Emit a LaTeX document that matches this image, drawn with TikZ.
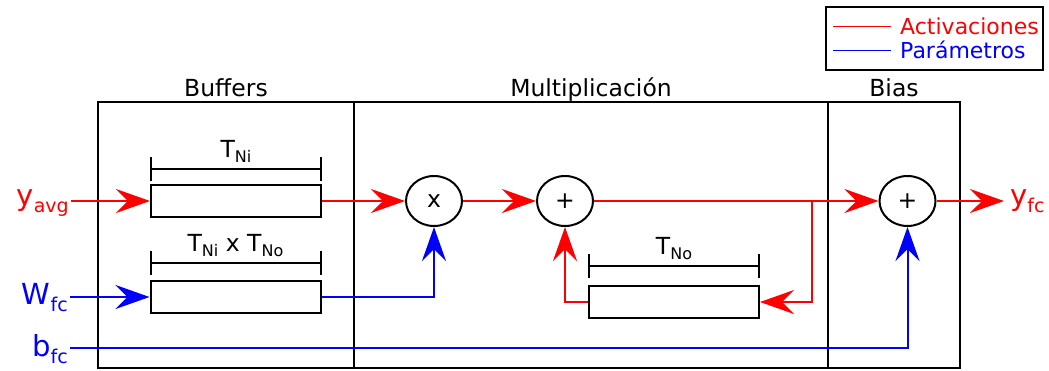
\documentclass[tikz,border=0pt]{standalone}
\usepackage{fontspec}
\setmainfont{DejaVu Sans}
\usepackage{xcolor}
\usepackage{tikz}
\usetikzlibrary{arrows.meta,shapes.geometric}
\definecolor{actred}{HTML}{FF0000}
\definecolor{parblue}{HTML}{0000FF}

\newcommand\hdfont{\fontsize{23.5}{27}\selectfont}
\newcommand\legfont{\fontsize{22}{26}\selectfont}
\newcommand\iofont{\fontsize{29}{32}\selectfont}
\newcommand\iolbl[2]{{\iofont #1}\raisebox{-7pt}{\fontsize{19}{21}\selectfont #2}}
\newcommand\tsz[1]{T\raisebox{-5pt}{\fontsize{16}{17}\selectfont #1}}

\tikzset{
  stagebox/.style={draw,line width=2pt,minimum height=266pt,inner sep=0pt},
  heading/.style={anchor=base,yshift=5pt,font=\hdfont},
  bufbox/.style={draw,line width=2pt,minimum width=170pt,minimum height=32pt,inner sep=0pt},
  opnode/.style={draw,ellipse,line width=2pt,minimum width=56pt,minimum height=50pt,inner sep=0pt,font=\hdfont},
  dimline/.style={line width=2pt,{Bar[width=24pt]}-{Bar[width=24pt]}},
  dimlbl/.style={midway,anchor=base,yshift=12pt,font=\hdfont},
  actline/.style={actred,line width=2pt},
  paramline/.style={parblue,line width=2pt},
}

\begin{document}
\begin{tikzpicture}[x=1pt,y=-1pt,>={Stealth[length=34pt,width=24pt,inset=12pt]}]
  \useasboundingbox (0,0) rectangle (1049,370);

  \node[draw,line width=2pt,minimum width=217pt,minimum height=63pt] (legend) at (934.5,38.5) {};
  \draw[actred,line width=1pt] (833,26) -- (891,26);
  \draw[parblue,line width=1pt] (833,50) -- (891,50);
  \node[anchor=base west,text=actred,font=\legfont,inner sep=0pt] (legact) at (900,34) {Activaciones};
  \node[anchor=base west,text=parblue,font=\legfont,inner sep=0pt] (legpar) at (900,58) {Parámetros};

  \node[stagebox,minimum width=256pt] (buffers) at (226,235) {};
  \node[stagebox,minimum width=474pt] (mult) at (591,235) {};
  \node[stagebox,minimum width=132pt] (bias) at (894,235) {};
  \node[heading] at (buffers.north) {Buffers};
  \node[heading] at (mult.north) {Multiplicación};
  \node[heading] at (bias.north) {Bias};

  \node[bufbox] (buf1) at (236,201) {};
  \node[bufbox] (buf2) at (235.5,297) {};
  \node[bufbox] (fbbuf) at (674,302) {};
  \draw[dimline] ([yshift=15pt]buf1.north west) -- ([yshift=15pt]buf1.north east)
    node[dimlbl] {\tsz{Ni}};
  \draw[dimline] ([yshift=17pt]buf2.north west) -- ([yshift=17pt]buf2.north east)
    node[dimlbl] {\tsz{Ni} x \tsz{No}};
  \draw[dimline] ([yshift=19pt]fbbuf.north west) -- ([yshift=19pt]fbbuf.north east)
    node[dimlbl] {\tsz{No}};

  \node[opnode] (mul) at (434,201) {x};
  \node[opnode] (add) at (565,201) {+};
  \node[opnode] (biasadd) at (907.5,201) {+};

  \coordinate (yin) at (71,201);
  \coordinate (win) at (70,297);
  \coordinate (bin) at (70,348);
  \coordinate (branch) at (812,201);
  \coordinate (yout) at (1004,201);
  \node[anchor=base east,text=actred,inner sep=2pt] (yavg) at (yin |- 0,205) {\iolbl{y}{avg}};
  \node[anchor=base east,text=parblue,inner sep=2pt] (wfc) at (win |- 0,304) {\iolbl{W}{fc}};
  \node[anchor=base east,text=parblue,inner sep=2pt] (bfc) at (bin |- 0,356) {\iolbl{b}{fc}};
  \node[anchor=base west,text=actred,inner sep=0pt] (yfc) at (1010,205) {\iolbl{y}{fc}};

  \draw[actline,->] (yin) -- (buf1.west);
  \draw[actline,->] (buf1) -- (mul);
  \draw[actline,->] (mul) -- (add);
  \draw[actline,->] (add) -- (biasadd);
  \draw[actline,->] (branch) |- (fbbuf.east);
  \draw[actline,->] (fbbuf.west) -| (add.south);
  \draw[actline,->] (biasadd) -- (yout);
  \draw[paramline,->] (win) -- (buf2.west);
  \draw[paramline,->] (buf2.east) -| (mul.south);
  \draw[paramline,->] (bin) -| (biasadd.south);
\end{tikzpicture}
\end{document}
